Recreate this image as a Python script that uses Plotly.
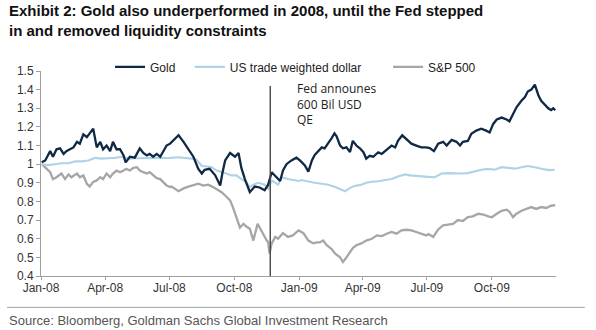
import datetime as dt
import plotly.graph_objects as go

# ---- data (day offset from 2008-01-01, value rebased to 1) ----
START = dt.date(2008, 1, 1)

gold_days = [1, 6, 13, 17, 22, 27, 32, 36, 41, 46,
             51, 55, 60, 65, 69, 74, 79, 84, 88, 93,
             98, 102, 107, 112, 117, 120, 126, 133, 140, 145,
             150, 154, 159, 164, 169, 173, 178, 183, 188, 195,
             202, 209, 216, 223, 228, 232, 239, 247, 254, 257,
             261, 268, 275, 280, 284, 289, 296, 303, 310, 317,
             322, 327, 334, 339, 343, 348, 355, 362, 367, 374,
             379, 384, 388, 393, 398, 402, 407, 412, 416, 419,
             424, 428, 433, 438, 442, 447, 452, 457, 461, 466,
             471, 478, 483, 490, 497, 502, 506, 512, 516, 520,
             525, 532, 539, 546, 551, 557, 563, 570, 575, 582,
             589, 594, 598, 605, 610, 617, 624, 631, 636, 641,
             646, 653, 660, 664, 669, 674, 681, 686, 690, 695,
             700, 705, 709, 714, 719, 723, 726, 729]
gold_vals = [1.01, 1.02, 1.07, 1.04, 1.08, 1.085, 1.055, 1.07, 1.08, 1.09,
             1.12, 1.11, 1.16, 1.145, 1.165, 1.19, 1.09, 1.12, 1.08, 1.10,
             1.07, 1.12, 1.08, 1.08, 1.047, 1.01, 1.04, 1.035, 1.085, 1.06,
             1.047, 1.055, 1.04, 1.055, 1.04, 1.07, 1.10, 1.11, 1.13, 1.155,
             1.12, 1.08, 1.04, 0.975, 0.95, 0.97, 0.975, 0.94, 0.886, 0.95,
             1.02, 1.06, 1.04, 1.06, 0.98, 0.92, 0.85, 0.88, 0.875, 0.86,
             0.89, 0.957, 0.93, 0.91, 0.966, 1.0, 1.02, 1.035, 1.02, 0.993,
             0.96, 1.02, 1.05, 1.073, 1.09, 1.085, 1.11, 1.14, 1.166, 1.15,
             1.10, 1.085, 1.09, 1.065, 1.125, 1.10, 1.085, 1.064, 1.03, 1.045,
             1.04, 1.064, 1.055, 1.08, 1.10, 1.09, 1.125, 1.155, 1.14, 1.125,
             1.11, 1.10, 1.09, 1.09, 1.086, 1.07, 1.11, 1.12, 1.10, 1.13,
             1.12, 1.10, 1.12, 1.125, 1.163, 1.18, 1.19, 1.18, 1.17, 1.216,
             1.24, 1.25, 1.24, 1.23, 1.27, 1.305, 1.34, 1.36, 1.39, 1.40,
             1.427, 1.37, 1.34, 1.32, 1.30, 1.29, 1.30, 1.29]

usd_days = [1, 10, 20, 29, 39, 48, 58, 67, 77, 86,
            95, 105, 114, 124, 133, 143, 152, 162, 171, 183,
            195, 204, 213, 220, 223, 228, 235, 242, 249, 256,
            263, 270, 277, 284, 291, 296, 301, 308, 317, 322,
            327, 336, 341, 350, 357, 365, 369, 379, 388, 398,
            407, 417, 426, 431, 435, 440, 447, 454, 461, 469,
            478, 487, 497, 506, 516, 523, 530, 539, 549, 558,
            568, 577, 587, 596, 605, 615, 624, 634, 643, 653,
            662, 672, 681, 690, 700, 707, 714, 721, 728]
usd_vals = [1.0, 0.995, 1.0, 1.005, 1.005, 1.015, 1.015, 1.02, 1.034, 1.03,
            1.032, 1.034, 1.04, 1.03, 1.032, 1.032, 1.034, 1.032, 1.034, 1.034,
            1.037, 1.035, 1.03, 1.025, 1.01, 0.99, 0.988, 0.984, 0.966, 0.96,
            0.95, 0.94, 0.94, 0.92, 0.904, 0.877, 0.89, 0.90, 0.89, 0.868,
            0.913, 0.89, 0.93, 0.92, 0.915, 0.91, 0.915, 0.905, 0.90, 0.895,
            0.89, 0.877, 0.86, 0.855, 0.865, 0.877, 0.885, 0.89, 0.90, 0.906,
            0.908, 0.913, 0.92, 0.934, 0.945, 0.94, 0.937, 0.934, 0.932, 0.93,
            0.95, 0.952, 0.95, 0.95, 0.952, 0.963, 0.97, 0.975, 0.97, 0.984,
            0.98, 0.976, 0.984, 0.99, 0.984, 0.976, 0.972, 0.968, 0.97]

spx_days = [1, 6, 13, 17, 22, 29, 34, 39, 43, 51,
            55, 60, 65, 69, 74, 79, 84, 88, 93, 98,
            102, 107, 112, 117, 121, 126, 131, 136, 140, 145,
            150, 154, 159, 164, 169, 173, 178, 183, 185, 195,
            202, 209, 216, 223, 230, 237, 244, 251, 256, 261,
            268, 272, 277, 282, 287, 291, 296, 301, 307, 310,
            315, 320, 322, 324, 327, 332, 336, 343, 350, 357,
            365, 372, 379, 386, 391, 395, 400, 405, 412, 417,
            424, 428, 433, 438, 442, 447, 454, 461, 469, 476,
            483, 490, 497, 504, 511, 518, 525, 532, 539, 546,
            549, 556, 563, 570, 577, 584, 591, 598, 605, 612,
            620, 627, 634, 639, 646, 653, 660, 664, 669, 674,
            681, 688, 695, 702, 709, 716, 723, 729]
spx_vals = [1.0, 0.984, 0.957, 0.92, 0.93, 0.95, 0.92, 0.945, 0.93, 0.95,
            0.93, 0.94, 0.895, 0.88, 0.905, 0.913, 0.93, 0.92, 0.95, 0.93,
            0.95, 0.966, 0.957, 0.966, 0.975, 0.966, 0.98, 0.984, 0.966, 0.957,
            0.95, 0.957, 0.94, 0.925, 0.92, 0.905, 0.886, 0.877, 0.88, 0.855,
            0.87, 0.88, 0.886, 0.895, 0.885, 0.89, 0.877, 0.86, 0.85, 0.832,
            0.806, 0.77, 0.72, 0.66, 0.68, 0.665, 0.654, 0.59, 0.68, 0.66,
            0.62, 0.59, 0.582, 0.52, 0.575, 0.61, 0.60, 0.63, 0.61, 0.618,
            0.645, 0.63, 0.59, 0.575, 0.58, 0.58, 0.59, 0.565, 0.545, 0.52,
            0.50, 0.475, 0.50, 0.53, 0.55, 0.565, 0.575, 0.59, 0.60, 0.618,
            0.614, 0.627, 0.636, 0.627, 0.645, 0.648, 0.645, 0.636, 0.627, 0.618,
            0.625, 0.61, 0.65, 0.672, 0.676, 0.68, 0.70, 0.695, 0.716, 0.72,
            0.734, 0.73, 0.72, 0.715, 0.734, 0.75, 0.756, 0.745, 0.716, 0.734,
            0.75, 0.76, 0.77, 0.76, 0.77, 0.765, 0.777, 0.78]

series_names = ["Gold", "US trade weighted dollar", "S&P 500"]
qe_day = 325  # Fed QE announcement marker
qe_text = "Fed announes<br>600 Bil USD<br>QE"
title_text = ("Exhibit 2: Gold also underperformed in 2008, until the Fed stepped"
              "<br>in and removed liquidity constraints")
source_text = "Source: Bloomberg, Goldman Sachs Global Investment Research"


def to_dates(days):
    return [START + dt.timedelta(days=d) for d in days]


def pair(days, vals):
    n = min(len(days), len(vals))
    return to_dates(days[:n]), vals[:n]


fig = go.Figure()
gx, gy = pair(gold_days, gold_vals)
ux, uy = pair(usd_days, usd_vals)
sx, sy = pair(spx_days, spx_vals)

fig.add_trace(go.Scatter(x=sx, y=sy, mode="lines", name=series_names[2], legend="legend3",
                         line=dict(color="#a6a6a6", width=2.3)))
fig.add_trace(go.Scatter(x=ux, y=uy, mode="lines", name=series_names[1], legend="legend2",
                         line=dict(color="#b0d2e6", width=2.1)))
fig.add_trace(go.Scatter(x=gx, y=gy, mode="lines", name=series_names[0], legend="legend",
                         line=dict(color="#0f2945", width=2.3)))

qe_date = START + dt.timedelta(days=qe_day)
fig.add_shape(type="line", xref="x", yref="y", x0=qe_date, x1=qe_date, y0=0.4, y1=1.42,
              line=dict(color="#4d4d4d", width=1.5))

fig.add_annotation(text=qe_text, xref="paper", yref="paper", x=0.493, y=0.965,
                   xanchor="left", yanchor="top", align="left", showarrow=False,
                   font=dict(family="Open Sans", size=12, color="#222222"))

# title
fig.add_annotation(text=title_text, xref="paper", yref="paper", x=-0.066, y=1.345,
                   xanchor="left", yanchor="top", align="left", showarrow=False,
                   font=dict(family="Liberation Sans", size=15, color="#111111", weight="bold"))

# separator and source
fig.add_shape(type="line", xref="paper", yref="paper", x0=-0.066, x1=1.056, y0=-0.153, y1=-0.153,
              line=dict(color="#a0a0a0", width=1))
fig.add_annotation(text=source_text, xref="paper", yref="paper", x=-0.066, y=-0.2195,
                   xanchor="left", yanchor="middle", showarrow=False,
                   font=dict(family="Liberation Sans", size=13, color="#555555"))

leg_common = dict(orientation="h", xref="paper", yref="paper", y=1.02,
                  xanchor="left", yanchor="middle", bgcolor="rgba(0,0,0,0)",
                  font=dict(family="Liberation Sans", size=12, color="#222222"))

fig.update_layout(
    width=596, height=330,
    margin=dict(l=41, r=40, t=71, b=54),
    paper_bgcolor="white", plot_bgcolor="white",
    font=dict(family="Liberation Sans", size=12, color="#333333"),
    showlegend=True,
    legend=dict(x=0.134, **leg_common),
    legend2=dict(x=0.289, **leg_common),
    legend3=dict(x=0.674, **leg_common),
    xaxis=dict(type="date", range=[START, dt.date(2009, 12, 31)],
               tick0="2008-01-01", dtick="M3", tickformat="%b-%y",
               showline=True, linecolor="#a0a0a0", linewidth=1,
               ticks="outside", ticklen=3, tickcolor="#a0a0a0",
               ticklabelstandoff=-2,
               showgrid=False, zeroline=False,
               tickfont=dict(size=12, color="#333333")),
    yaxis=dict(range=[0.4, 1.5], dtick=0.1, tick0=0.4,
               showline=True, linecolor="#a0a0a0", linewidth=1,
               ticks="outside", ticklen=4, tickcolor="#a0a0a0",
               showgrid=False, zeroline=False,
               tickfont=dict(size=12, color="#333333")),
)

fig.write_html("out.html")
